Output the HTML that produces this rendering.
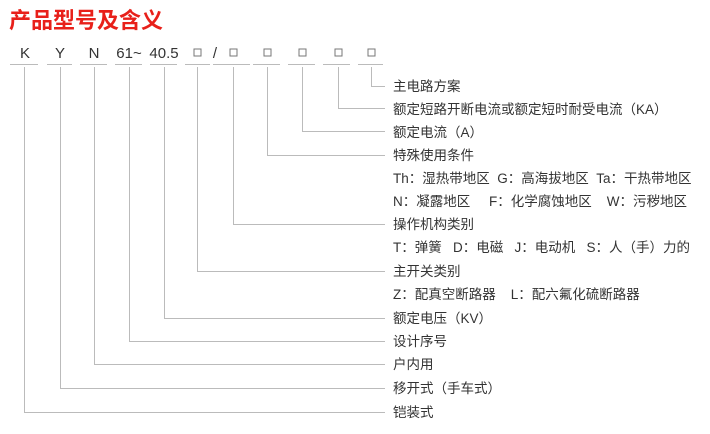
<!DOCTYPE html>
<html><head><meta charset="utf-8"><style>
html,body{margin:0;padding:0;background:#fff;}
svg{display:block;}
text{font-family:"Liberation Sans","Noto Sans CJK SC",sans-serif;}
</style></head><body>
<svg width="710" height="434" viewBox="0 0 710 434" xmlns="http://www.w3.org/2000/svg">
<text x="9" y="28" font-size="22" font-weight="bold" fill="#e8201a" style="font-family:'Noto Sans CJK SC',sans-serif">产品型号及含义</text>
<g font-size="15" fill="#333" text-anchor="middle">
<text x="25" y="58">K</text><text x="60" y="58">Y</text><text x="94" y="58">N</text>
<text x="129" y="58">61~</text><text x="164" y="58">40.5</text>
<text x="215" y="58">/</text>
</g>
<g fill="none" stroke="#777" stroke-width="1">
<rect x="194" y="49" width="7" height="7"/><rect x="230" y="49" width="7" height="7"/>
<rect x="264" y="49" width="7" height="7"/><rect x="299" y="49" width="7" height="7"/>
<rect x="335" y="49" width="7" height="7"/><rect x="368" y="49" width="7" height="7"/>
</g>
<g stroke="#bbb" stroke-width="1" fill="none">
<path d="M10 64.5H38M47 64.5H72M80 64.5H107M115 64.5H142M150 64.5H177M185 64.5H210M213 64.5H250M253 64.5H280M288 64.5H315M323 64.5H350M358 64.5H383"/>
<path d="M371.5 67V86.5H385"/>
<path d="M338.5 67V108.5H385"/>
<path d="M302.5 67V131.5H385"/>
<path d="M267.5 67V155.5H385"/>
<path d="M233.5 67V224.5H385"/>
<path d="M197.5 67V271.5H385"/>
<path d="M164.5 67V318.5H385"/>
<path d="M129.5 67V341.5H385"/>
<path d="M94.5 67V364.5H385"/>
<path d="M60.5 67V388.5H385"/>
<path d="M24.5 67V412.5H385"/>
</g>
<g font-size="13.5" fill="#333" style="font-family:'Liberation Sans','Noto Sans CJK SC',sans-serif">
<text x="393" y="91">主电路方案</text>
<text x="393" y="114">额定短路开断电流或额定短时耐受电流（KA）</text>
<text x="393" y="137">额定电流（A）</text>
<text x="393" y="160">特殊使用条件</text>
<text x="393" y="183" xml:space="preserve">Th：湿热带地区  G：高海拔地区  Ta：干热带地区</text>
<text x="393" y="206" xml:space="preserve">N：凝露地区     F：化学腐蚀地区    W：污秽地区</text>
<text x="393" y="229">操作机构类别</text>
<text x="393" y="252" xml:space="preserve">T：弹簧   D：电磁   J：电动机   S：人（手）力的</text>
<text x="393" y="276">主开关类别</text>
<text x="393" y="299" xml:space="preserve">Z：配真空断路器    L：配六氟化硫断路器</text>
<text x="393" y="323">额定电压（KV）</text>
<text x="393" y="346">设计序号</text>
<text x="393" y="369">户内用</text>
<text x="393" y="393">移开式（手车式）</text>
<text x="393" y="417">铠装式</text>
</g>
</svg>
</body></html>
